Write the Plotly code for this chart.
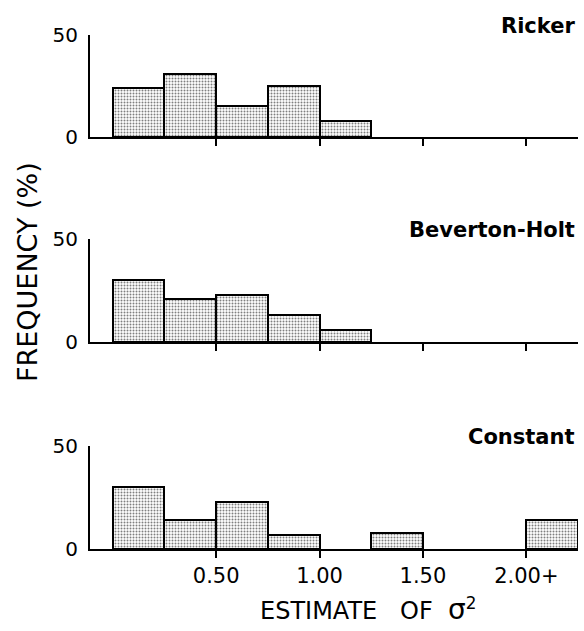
import plotly.graph_objects as go

# ---- data ----
bin_width = 0.25
panel_names = ["Ricker", "Beverton-Holt", "Constant"]
ricker_left = [0.0, 0.25, 0.5, 0.75, 1.0]
ricker_freq = [24, 31, 15, 25, 8]
bh_left = [0.0, 0.25, 0.5, 0.75, 1.0]
bh_freq = [30, 21, 23, 13, 6]
const_left = [0.0, 0.25, 0.5, 0.75, 1.25, 2.0]
const_freq = [30, 14, 23, 7, 8, 14]
x_tickvals = [0.5, 1.0, 1.5, 2.0]
x_ticktext = ["0.50", "1.00", "1.50", "2.00+"]
y_tickvals = [0, 50]
y_ticktext = ["0", "50"]

panels = [(ricker_left, ricker_freq), (bh_left, bh_freq), (const_left, const_freq)]

# ---- layout geometry ----
W, H = 584, 631
ml, mr, mt, mb = 90, 6, 35, 82
ph = H - mt - mb
px_top = [35, 239, 446]
px_bot = [137, 342, 549]
domains = [[(H - mb - b) / ph, (H - mb - t) / ph] for t, b in zip(px_top, px_bot)]
domains = [[max(0, d0), min(1, d1)] for d0, d1 in domains]

FONT = "DejaVu Sans"
fig = go.Figure()

for i, (left, freq) in enumerate(panels):
    sfx = "" if i == 0 else str(i + 1)
    fig.add_trace(go.Bar(
        x=left, y=freq, width=bin_width, offset=0,
        xaxis="x" + sfx, yaxis="y" + sfx,
        marker=dict(
            color="white",
            line=dict(color="black", width=2),
            pattern=dict(shape=".", size=3, solidity=0.35,
                         fgcolor="black", bgcolor="white"),
        ),
        showlegend=False,
    ))
    bottom = (i == 2)
    fig.layout["xaxis" + sfx] = dict(
        domain=[0, 1], anchor="y" + sfx, range=[-0.11, 2.25],
        showline=True, linecolor="black", linewidth=2,
        ticks="outside", ticklen=7, tickwidth=1.5, tickcolor="black",
        tickvals=x_tickvals, ticktext=x_ticktext,
        showticklabels=bottom, showgrid=False, zeroline=False,
        tickfont=dict(family=FONT, size=21, color="black"),
    )
    fig.layout["yaxis" + sfx] = dict(
        domain=domains[i], anchor="x" + sfx, range=[0, 50],
        showline=True, linecolor="black", linewidth=2,
        ticks="inside", ticklen=10, tickwidth=2, tickcolor="black",
        tickvals=y_tickvals, ticktext=y_ticktext,
        showgrid=False, zeroline=False, ticklabelstandoff=6,
        tickfont=dict(family=FONT, size=20, color="black"),
    )
    fig.add_annotation(
        text=panel_names[i], xref="paper", yref="paper",
        x=1, y=domains[i][1], xanchor="right", yanchor="middle",
        xshift=-1, yshift=9, showarrow=False,
        font=dict(family=FONT, size=21, color="black", weight="bold"),
    )

fig.add_annotation(
    text="FREQUENCY (%)", xref="paper", yref="paper",
    x=(27 - ml) / (W - ml - mr), y=(H - mb - 272) / ph,
    xanchor="center", yanchor="middle", textangle=-90, showarrow=False,
    font=dict(family=FONT, size=27, color="black"),
)
fig.add_annotation(
    text="ESTIMATE&nbsp;&nbsp;&nbsp;OF&nbsp;&nbsp;<span style='font-size:28px'>σ</span><sup>2</sup>",
    xref="paper", yref="paper",
    x=(368 - ml) / (W - ml - mr), y=(H - mb - 609) / ph,
    xanchor="center", yanchor="middle", showarrow=False,
    font=dict(family=FONT, size=24, color="black"),
)

fig.update_layout(
    width=W, height=H, margin=dict(l=ml, r=mr, t=mt, b=mb),
    paper_bgcolor="white", plot_bgcolor="white", bargap=0,
)
fig.write_html(
    "out.html",
    config={"displayModeBar": False},
    post_script="document.body.style.margin='0';document.body.style.overflow='hidden';",
)
